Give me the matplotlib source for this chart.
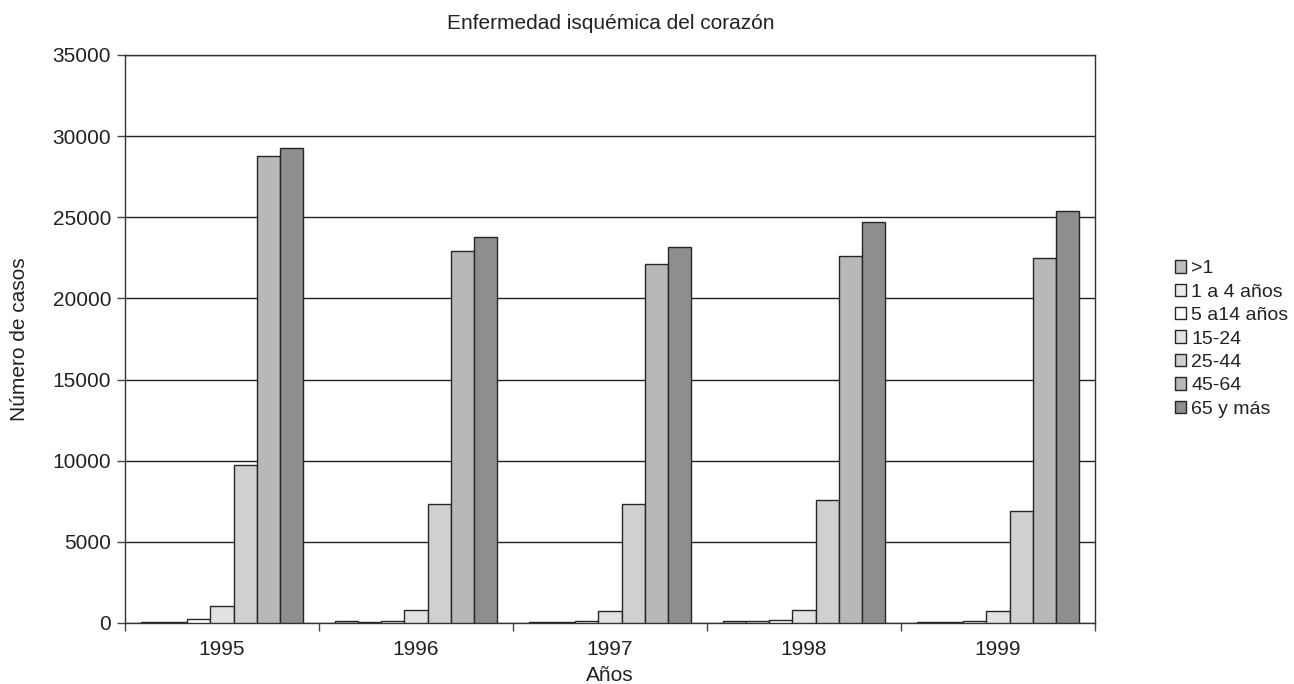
import numpy as np
import matplotlib.pyplot as plt

plt.rcParams['font.family'] = ['Liberation Sans', 'DejaVu Sans']

years = ['1995', '1996', '1997', '1998', '1999']
grupos = ['>1', '1 a 4 años', '5 a14 años', '15-24', '25-44', '45-64', '65 y más']
colores = ['#bdbdbd', '#ececec', '#ffffff', '#e2e2e2', '#d0d0d0', '#b8b8b8', '#8e8e8e']

# casos por grupo de edad, un valor por año
menor_1 = [60, 150, 60, 100, 50]
de_1_4 = [60, 50, 60, 150, 50]
de_5_14 = [250, 150, 150, 200, 150]
de_15_24 = [1050, 800, 750, 800, 750]
de_25_44 = [9750, 7350, 7350, 7600, 6900]
de_45_64 = [28800, 22900, 22100, 22600, 22500]
mas_65 = [29300, 23800, 23150, 24700, 25400]
casos = [menor_1, de_1_4, de_5_14, de_15_24, de_25_44, de_45_64, mas_65]

fig = plt.figure(figsize=(12.94, 6.84), dpi=100)
ax = fig.add_axes([125/1294, 61/684, 970/1294, 568/684])

x = np.arange(len(years))
ancho = 0.119
for i, (serie, col, nombre) in enumerate(zip(casos, colores, grupos)):
    pos = x - 3*ancho + i*ancho
    ax.bar(pos, serie, width=ancho, color=col, edgecolor='#262626',
           linewidth=1.0, label=nombre, zorder=3)

ax.set_xlim(-0.5, len(years) - 0.5)
ax.set_ylim(0, 35000)
ax.set_yticks(np.arange(0, 35001, 5000))
ax.yaxis.grid(True, color='#222222', linewidth=1.0, zorder=0)

# marcas en los límites de cada categoría, etiquetas al centro
ax.set_xticks(np.arange(-0.5, len(years), 1.0))
ax.set_xticklabels([])
ax.set_xticks(x, minor=True)
ax.set_xticklabels(years, minor=True)
ax.tick_params(axis='x', which='major', length=6, width=1, direction='out', color='#444444')
ax.tick_params(axis='x', which='minor', length=0, labelsize=15, pad=12, labelcolor='#222222')
ax.tick_params(axis='y', length=6, width=1, direction='out', labelsize=15, pad=4,
               color='#444444', labelcolor='#222222')

for s in ax.spines.values():
    s.set_color('#333333')
    s.set_linewidth(1.0)

ax.set_xlabel('Años', fontsize=15, labelpad=5, color='#222222')
ax.set_ylabel('Número de casos', fontsize=15, labelpad=17, color='#222222')
fig.text(0.472, 0.966, 'Enfermedad isquémica del corazón', ha='center', va='center',
         fontsize=15, color='#222222')

ax.legend(loc='center left', bbox_to_anchor=(1.072, 0.5), frameon=False,
          fontsize=14, handlelength=0.6, handleheight=0.6, handletextpad=0.25,
          labelspacing=0.33, borderpad=0, labelcolor='#222222')

fig.savefig('out.png', dpi=100)
